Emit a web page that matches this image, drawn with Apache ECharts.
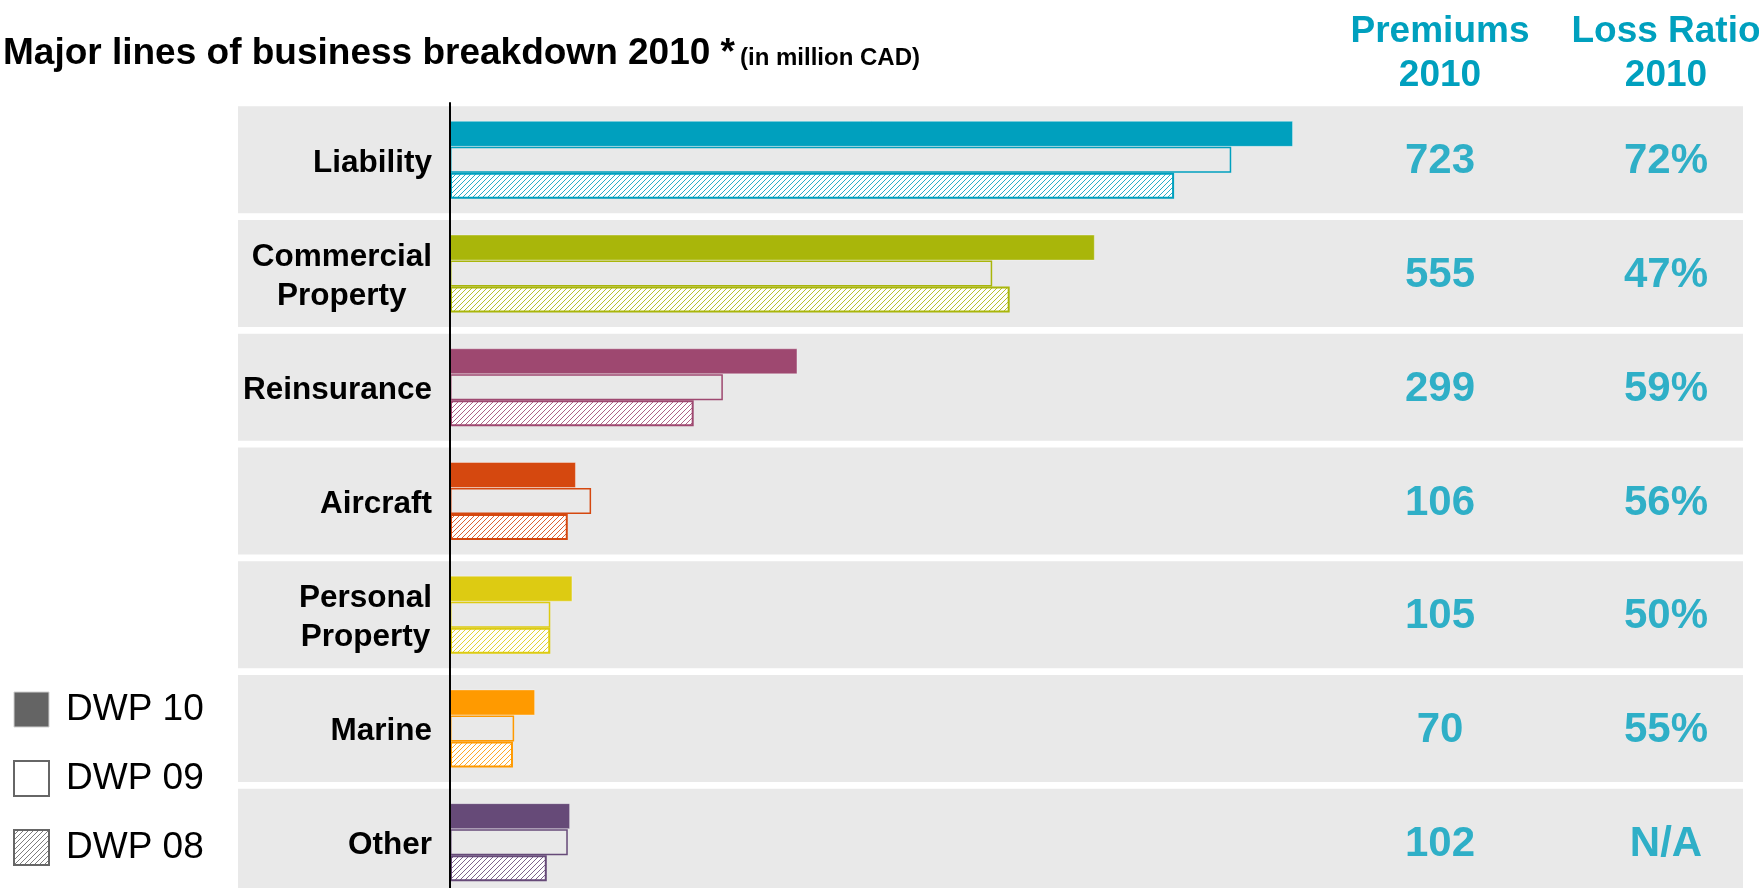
<!DOCTYPE html>
<html>
<head>
<meta charset="utf-8">
<title>Major lines of business breakdown 2010</title>
<script src="https://cdn.jsdelivr.net/npm/echarts@6/dist/echarts.min.js"></script>
<style>
  html, body { margin: 0; padding: 0; background: #fff; }
  #chart { width: 1759px; height: 888px; }
</style>
</head>
<body>
<div id="chart"></div>
<script>
// values (million CAD)
var categories = ['Liability', 'Commercial Property', 'Reinsurance', 'Aircraft', 'Personal Property', 'Marine', 'Other']
var dwp10 = [723, 553, 298, 108, 105, 73, 103]
var dwp09 = [670, 465, 234, 121, 86, 55, 101]
var dwp08 = [621, 480, 209, 101, 86, 54, 83]
var premiums2010 = [723, 555, 299, 106, 105, 70, 102]
var lossRatio2010 = ['72%', '47%', '59%', '56%', '50%', '55%', 'N/A']
var tableHeaders = ['Premiums\n2010', 'Loss Ratio\n2010']

// styles
var colors = ['#00a0be', '#a9b60a', '#9e4870', '#d5480f', '#ddcb12', '#ff9a00', '#664a78']
var teal = '#00a0be'
var font = '"Liberation Sans", Arial, sans-serif'

// white tile with "////" stripes
function hatch(color) {
  var s = 5
  var c = document.createElement('canvas')
  c.width = s
  c.height = s
  var ctx = c.getContext('2d')
  ctx.fillStyle = '#fff'
  ctx.fillRect(0, 0, s, s)
  ctx.strokeStyle = color
  ctx.globalAlpha = 0.85
  ctx.lineWidth = 1
  ctx.beginPath()
  ctx.moveTo(0, s); ctx.lineTo(s, 0)
  ctx.moveTo(-1, 1); ctx.lineTo(1, -1)
  ctx.moveTo(s - 1, s + 1); ctx.lineTo(s + 1, s - 1)
  ctx.stroke()
  return { image: c, repeat: 'repeat' }
}

var myChart = echarts.init(document.getElementById('chart'))

var option = {
  backgroundColor: '#fff',
  animation: false,
  title: {
    left: 3,
    top: 32,
    padding: 0,
    text: '{a|Major lines of business breakdown 2010 *} {b|(in million CAD)}',
    textStyle: {
      rich: {
        a: { fontFamily: font, fontSize: 37, fontWeight: 'bold', color: '#000', lineHeight: 44 },
        b: { fontFamily: font, fontSize: 24, fontWeight: 'bold', color: '#000', lineHeight: 44, padding: [8, 0, 0, 0] }
      }
    }
  },
  legend: {
    orient: 'vertical',
    left: 13,
    top: 691,
    padding: 0,
    itemWidth: 35,
    itemHeight: 35,
    itemGap: 32,
    icon: 'rect',
    selectedMode: false,
    textStyle: { fontFamily: font, fontSize: 37, color: '#000', lineHeight: 35, padding: [0, 0, 0, 12] },
    data: [
      { name: 'DWP 10', itemStyle: { color: '#646464', borderColor: '#d0d0d0', borderWidth: 1 } },
      { name: 'DWP 09', itemStyle: { color: '#fff', borderColor: '#666', borderWidth: 2 } },
      { name: 'DWP 08', itemStyle: { color: hatch('#666'), borderColor: '#666', borderWidth: 2 } }
    ]
  },
  grid: [
    { left: 450, top: 103, width: 1166, height: 796, outerBoundsMode: 'none', containLabel: false },
    { left: 238, top: 103, width: 1505, height: 796, outerBoundsMode: 'none', containLabel: false },
    { left: 1327, top: 103, width: 452, height: 796, outerBoundsMode: 'none', containLabel: false }
  ],
  xAxis: [
    { type: 'value', gridIndex: 0, min: 0, max: 1000, show: false },
    { type: 'value', gridIndex: 1, min: 0, max: 1, show: false },
    {
      type: 'category', gridIndex: 2, position: 'top', data: tableHeaders,
      axisLine: { show: false }, axisTick: { show: false }, splitLine: { show: false },
      axisLabel: {
        interval: 0, margin: 5, fontFamily: font, fontSize: 37, fontWeight: 'bold',
        color: teal, lineHeight: 44
      }
    }
  ],
  yAxis: [
    {
      type: 'category', gridIndex: 0, data: categories, inverse: true, z: 5,
      axisLine: { show: true, lineStyle: { color: '#000', width: 2 } },
      axisTick: { show: false },
      axisLabel: {
        margin: 18,
        padding: [6, 0, 0, 0],
        formatter: function(v) {
          return v.split(' ').map(function(w) { return '{n|' + w + '}' }).join('\n')
        },
        rich: {
          n: { fontFamily: font, fontSize: 31.5, fontWeight: 'bold', color: '#000', lineHeight: 39, align: 'center' }
        }
      }
    },
    { type: 'category', gridIndex: 1, data: categories, inverse: true, show: false },
    { type: 'category', gridIndex: 2, data: categories, inverse: true, show: false }
  ],
  series: [
    {
      type: 'bar', xAxisIndex: 1, yAxisIndex: 1, silent: true, z: 1,
      barWidth: 107,
      itemStyle: { color: '#e9e9e9' },
      data: categories.map(function() { return 1 })
    },
    {
      name: 'DWP 10', type: 'bar', barWidth: 26, barGap: '0%', z: 3, silent: true,
      data: dwp10.map(function(v, i) {
        return { value: v, itemStyle: { color: colors[i], borderColor: 'rgba(255,255,255,0.35)', borderWidth: 1 } }
      })
    },
    {
      name: 'DWP 09', type: 'bar', barWidth: 26, barGap: '0%', z: 3, silent: true,
      data: dwp09.map(function(v, i) {
        return { value: v, itemStyle: { color: 'rgba(0,0,0,0)', borderColor: colors[i], borderWidth: 1.5 } }
      })
    },
    {
      name: 'DWP 08', type: 'bar', barWidth: 26, barGap: '0%', z: 3, silent: true,
      data: dwp08.map(function(v, i) {
        return { value: v, itemStyle: { color: hatch(colors[i]), borderColor: colors[i], borderWidth: 2 } }
      })
    },
    {
      type: 'scatter', xAxisIndex: 2, yAxisIndex: 2, silent: true, z: 4,
      symbolSize: 1, itemStyle: { color: 'rgba(0,0,0,0)' },
      data: categories.map(function(c) { return [tableHeaders[0], c] }),
      label: {
        show: true, position: 'inside', offset: [0, 2], fontFamily: font, fontSize: 42, fontWeight: 'bold', color: teal,
        formatter: function(p) { return premiums2010[p.dataIndex] }
      }
    },
    {
      type: 'scatter', xAxisIndex: 2, yAxisIndex: 2, silent: true, z: 4,
      symbolSize: 1, itemStyle: { color: 'rgba(0,0,0,0)' },
      data: categories.map(function(c) { return [tableHeaders[1], c] }),
      label: {
        show: true, position: 'inside', offset: [0, 2], fontFamily: font, fontSize: 42, fontWeight: 'bold', color: teal,
        formatter: function(p) { return lossRatio2010[p.dataIndex] }
      }
    }
  ]
}

option && myChart.setOption(option)
</script>
</body>
</html>
